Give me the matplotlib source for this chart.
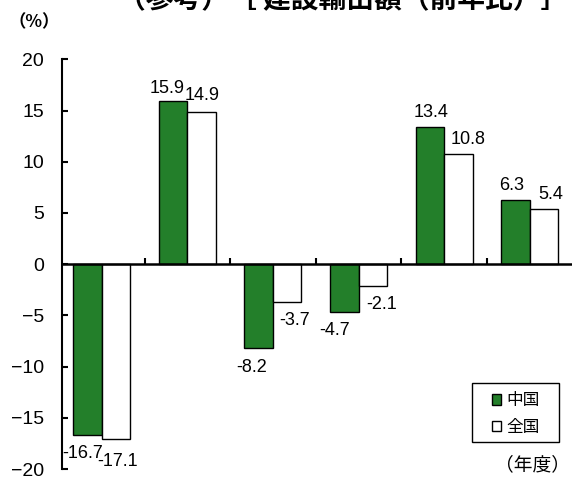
import numpy as np
import matplotlib
matplotlib.use("Agg")
import matplotlib.pyplot as plt
from matplotlib.patches import Rectangle
from matplotlib.font_manager import FontProperties

# values (前年比, %)
series_names = ["中国", "全国"]
chugoku = [-16.7, 15.9, -8.2, -4.7, 13.4, 6.3]
zenkoku = [-17.1, 14.9, -3.7, -2.1, 10.8, 5.4]

title_text = "（参考）［ 建設輸出額（前年比）］"
unit_text = "（%）"
year_text = "（年度）"

GREEN = "#237F2A"
num_font = ["Liberation Sans", "DejaVu Sans"]
cjk_font = ["Noto Sans CJK JP", "DejaVu Sans"]

fig = plt.figure(figsize=(5.72, 4.78), dpi=100)
ax = fig.add_axes([62 / 572, 1 - 469 / 478, 510 / 572, (469 - 59.3) / 478])

x = np.arange(len(chugoku))
w = 0.333
b1 = ax.bar(x - w / 2, chugoku, w, color=GREEN, edgecolor="black", linewidth=1,
            label=series_names[0], zorder=2)
b2 = ax.bar(x + w / 2, zenkoku, w, color="white", edgecolor="black", linewidth=1,
            label=series_names[1], zorder=2)

# data labels, nudged like the original (pixels)
green_off = [(-4.5, -18), (-5.5, 13), (-7.5, -19), (-9.5, -18), (1.5, 14), (-3.5, 14)]
white_off = [(2, -22), (1, 16), (7, -18), (8.5, -19), (9.5, 14), (7, 14)]
for xs, vals, offs in [(x - w / 2, chugoku, green_off), (x + w / 2, zenkoku, white_off)]:
    for xi, v, (dx, dy) in zip(xs, vals, offs):
        ax.annotate(f"{v:.1f}", xy=(xi, v), xytext=(dx, dy), textcoords="offset pixels",
                    ha="center", va="center", fontsize=13, family=num_font)

ax.set_xlim(-0.464, 5.494)
ax.set_ylim(-20, 20)
ax.set_yticks(range(-20, 21, 5))
ax.set_xticks(x[:-1] + 0.5)

for s in ["top", "right"]:
    ax.spines[s].set_visible(False)
ax.spines["left"].set_linewidth(1.5)
ax.spines["bottom"].set_position(("data", 0))
ax.spines["bottom"].set_linewidth(1.8)
ax.spines["bottom"].set_zorder(3)

ax.tick_params(axis="y", direction="in", length=4, width=1.5, pad=13, labelsize=14)
ax.tick_params(axis="x", direction="in", length=4.5, width=1.5, labelbottom=False)
for lab in ax.get_yticklabels():
    lab.set_family(num_font)

# legend box drawn separately to get the wide side padding of the original
ax.add_patch(Rectangle((472 / 572, 1 - 442 / 478), 87 / 572, 59 / 478,
                       transform=fig.transFigure, facecolor="white",
                       edgecolor="black", linewidth=1, zorder=5, clip_on=False))
leg = ax.legend(handles=[b1, b2], loc="center",
                bbox_to_anchor=(516 / 572, 1 - 414 / 478), bbox_transform=fig.transFigure,
                prop=FontProperties(family=cjk_font, size=12),
                frameon=False, handlelength=0.55, handleheight=0.55, handletextpad=0.3,
                borderpad=0, labelspacing=0.55, borderaxespad=0)
leg.set_zorder(6)

fig.text(34 / 572, 1 - 22 / 478, unit_text, ha="center", va="center",
         fontsize=12.5, family=cjk_font, fontweight="bold")
fig.text(532 / 572, 1 - 465 / 478, year_text, ha="center", va="center",
         fontsize=13.5, family=cjk_font)
fig.text(343 / 572, 1 + 1 / 478, title_text, ha="center", va="center",
         fontsize=20, family=cjk_font, fontweight="bold")

fig.savefig("out.png", dpi=100)
